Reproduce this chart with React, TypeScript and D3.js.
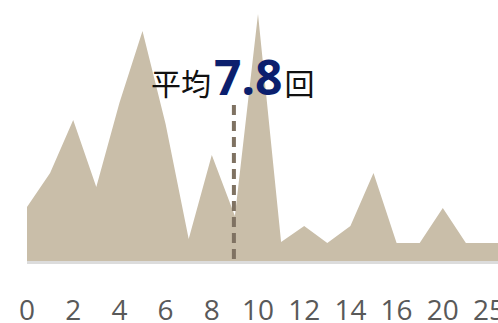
import React from "react";
import * as d3 from "d3";

const categories = ["0","1","2","3","4","5","6","7","8","9","10","11","12","13","14","15","16","18","20","22","25","30"];
const values = [5.4, 8.8, 14.1, 7.4, 15.8, 23.0, 13.7, 2.2, 10.6, 4.5, 24.7, 1.9, 3.5, 1.8, 3.5, 8.8, 1.8, 1.8, 5.3, 1.8, 1.8, 1.8];
const tickLabels = ["0","2","4","6","8","10","12","14","16","20","25"];
const averageValue = "7.8";
const averagePosition = 9;

const W = 498;
const H = 323;

export default function App() {
  const x = d3.scaleLinear().domain([0, 20]).range([27, 489]);
  const y = d3.scaleLinear().domain([0, 24.8]).range([261, 13]);
  const data = values.map((v, i) => ({ i, v }));
  const area = d3.area<{ i: number; v: number }>()
    .x(d => x(d.i))
    .y0(y(0))
    .y1(d => y(d.v));
  const tickIdx = categories.map((c, i) => ({ c, i })).filter(d => tickLabels.includes(d.c));
  return (
    <svg width={W} height={H} style={{ position: "absolute", left: 0, top: 0, background: "#fff" }}>
      <path d={area(data) || ""} fill="#c9bea9" />
      <line x1={x(0)} x2={W} y1={y(0) + 1.5} y2={y(0) + 1.5} stroke="#dcdcdc" strokeWidth={3} />
      <line x1={x(averagePosition) - 1} x2={x(averagePosition) - 1} y1={105} y2={261} stroke="#7f7262" strokeWidth={4} strokeDasharray="10 6" />
      {tickIdx.map(d => (
        <text key={d.c} x={x(d.i)} y={320} textAnchor="middle" fontFamily="'Open Sans', 'Noto Sans', sans-serif" fontSize={28} fill="#595959">{d.c}</text>
      ))}
      <text x={151} y={95} fontFamily="'Noto Sans CJK JP', sans-serif">
        <tspan fontSize={30} fill="#111">平均</tspan>
        <tspan dx={3} fontSize={48} fontWeight="bold" fill="#0b1f6e" fontFamily="'Noto Sans', sans-serif">{averageValue}</tspan>
        <tspan dx={2} fontSize={30} fill="#111">回</tspan>
      </text>
    </svg>
  );
}
